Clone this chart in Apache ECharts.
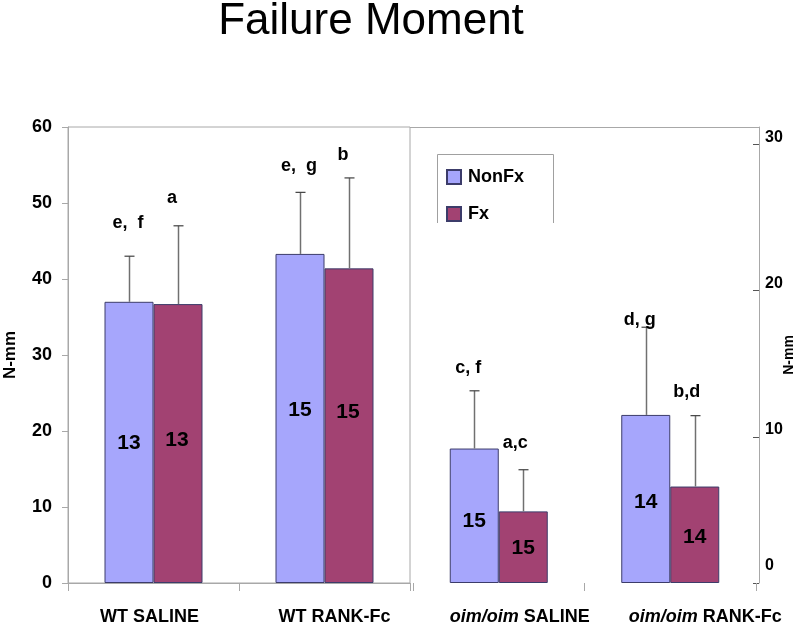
<!DOCTYPE html>
<html>
<head>
<meta charset="utf-8">
<script src="https://cdn.jsdelivr.net/npm/echarts@6/dist/echarts.min.js"></script>
<style>html,body{margin:0;padding:0;background:#fff;}#chart{width:800px;height:630px;}</style>
</head>
<body>
<div id="chart"></div>
<script>
// ---- data ----
const categoriesWT = ['WT SALINE', 'WT RANK-Fc'];
const categoriesOim = ['oim/oim SALINE', 'oim/oim RANK-Fc'];
const leftTicks = [0, 10, 20, 30, 40, 50, 60];
const rightTicks = [0, 10, 20, 30];

const wtNonFx = [37.0, 43.3];
const wtNonFxSD = [6.0, 8.1];
const wtFx = [36.7, 41.4];
const wtFxSD = [10.3, 11.9];
const oimNonFx = [9.2, 11.5];
const oimNonFxSD = [3.95, 6.0];
const oimFx = [4.9, 6.6];
const oimFxSD = [2.85, 4.85];

const wtNonFxN = ['13', '15'];
const wtFxN = ['13', '15'];
const oimNonFxN = ['15', '14'];
const oimFxN = ['15', '14'];
const wtNonFxNAt = [18.4, 22.8];
const wtFxNAt = [18.8, 22.5];
const oimNonFxNAt = [4.25, 5.5];
const oimFxNAt = [2.4, 3.15];

const wtNonFxLetters = ['e,  f', 'e,  g'];
const wtNonFxLettersAt = [47.4, 54.9];
const wtFxLetters = ['a', 'b'];
const wtFxLettersAt = [50.7, 56.3];
const oimNonFxLetters = ['c, f', 'd, g'];
const oimNonFxLettersAt = [14.7, 18.0];
const oimFxLetters = ['a,c', 'b,d'];
const oimFxLettersAt = [9.6, 13.1];

// ---- styles ----
const FONT = 'Liberation Sans, Arial, sans-serif';
const BAR_W = 49;
const C_NONFX = '#A6A6FC';
const C_FX = '#A24272';
const C_BORDER = '#3c3c6a';
const C_FRAME = '#a8a8a8';

function errSeries(name, means, sds, side, xi, yi) {
  return {
    type: 'custom', name: name, xAxisIndex: xi, yAxisIndex: yi, z: 5, clip: false,
    data: means.map((m, i) => [i, m, sds[i]]),
    encode: { x: 0, y: 1 },
    renderItem: function (params, api) {
      const i = api.value(0), m = api.value(1), s = api.value(2);
      const p0 = api.coord([i, m]);
      const p1 = api.coord([i, m + s]);
      const x = Math.round(p0[0] + side * BAR_W / 2) + 0.5;
      const st = { stroke: '#707070', lineWidth: 1.5 };
      return { type: 'group', children: [
        { type: 'line', shape: { x1: x, y1: p0[1], x2: x, y2: p1[1] }, style: st },
        { type: 'line', shape: { x1: x - 5, y1: p1[1], x2: x + 5, y2: p1[1] }, style: { stroke: '#404040', lineWidth: 1.2 } }
      ] };
    }
  };
}

function textSeries(name, texts, at, side, dx, size, xi, yi) {
  return {
    type: 'custom', name: name, xAxisIndex: xi, yAxisIndex: yi, z: 10, clip: false,
    data: at.map((v, i) => [i, v]),
    encode: { x: 0, y: 1 },
    renderItem: function (params, api) {
      const p = api.coord([api.value(0), api.value(1)]);
      return {
        type: 'text',
        x: p[0] + side * BAR_W / 2 + dx, y: p[1],
        style: { text: texts[params.dataIndex], fill: '#000', font: 'bold ' + size + 'px ' + FONT, textAlign: 'center', textVerticalAlign: 'middle' }
      };
    }
  };
}

const labelShift = { 'WT SALINE': -4, 'WT RANK-Fc': 10, 'oim/oim SALINE': 21, 'oim/oim RANK-Fc': 35 };
function catFormatter(v) {
  const d = labelShift[v] || 0;
  const lp = d > 0 ? 'L' + Math.round(d) : '';
  if (v.indexOf('oim/oim') === 0) {
    return '{i' + lp + '|oim/oim}{n|' + v.slice(7) + '}';
  }
  return '{n' + (d < 0 ? 'R' : '') + '|' + v + '}';
}
const catRich = {
  n: { fontWeight: 'bold', fontSize: 18, fontFamily: FONT, color: '#000' },
  nR: { fontWeight: 'bold', fontSize: 18, fontFamily: FONT, color: '#000', padding: [0, 8, 0, 0] },
  i: { fontWeight: 'bold', fontStyle: 'italic', fontSize: 18, fontFamily: FONT, color: '#000' },
  iL21: { fontWeight: 'bold', fontStyle: 'italic', fontSize: 18, fontFamily: FONT, color: '#000', padding: [0, 0, 0, 42] },
  iL35: { fontWeight: 'bold', fontStyle: 'italic', fontSize: 18, fontFamily: FONT, color: '#000', padding: [0, 0, 0, 70] }
};
const wtRich = Object.assign({}, catRich, {
  nL10: { fontWeight: 'bold', fontSize: 18, fontFamily: FONT, color: '#000', padding: [0, 0, 0, 20] }
});
function wtFormatter(v) {
  const d = labelShift[v] || 0;
  if (d > 0) return '{nL10|' + v + '}';
  return catFormatter(v);
}

const chart = echarts.init(document.getElementById('chart'), null, { renderer: 'canvas' });
chart.setOption({
  animation: false,
  backgroundColor: '#fff',
  title: {
    text: 'Failure Moment', left: 371, top: 0, padding: 0, textAlign: 'center',
    textStyle: { fontFamily: FONT, fontSize: 44, fontWeight: 'normal', color: '#000' }
  },
  legend: {
    data: ['NonFx', 'Fx'], orient: 'vertical', left: 446, top: 168, padding: 0,
    itemWidth: 14, itemHeight: 14, itemGap: 19, icon: 'rect',
    textStyle: { fontFamily: FONT, fontSize: 18, fontWeight: 'bold', color: '#000', padding: [0, 0, 0, 2] }
  },
  graphic: [
    { type: 'line', shape: { x1: 410, y1: 127.5, x2: 759, y2: 127.5 }, style: { stroke: C_FRAME, lineWidth: 1 }, silent: true },
    { type: 'polyline', shape: { points: [[437.5, 223], [437.5, 154.5], [553.5, 154.5], [553.5, 223]] }, style: { stroke: '#a0a0a0', lineWidth: 1, fill: null }, silent: true }
  ],
  grid: [
    { left: 68, top: 127, width: 342, height: 456, show: true, borderColor: C_FRAME, borderWidth: 1, backgroundColor: 'transparent', outerBoundsMode: 'none', containLabel: false },
    { left: 413, top: 127, width: 343, height: 456, outerBoundsMode: 'none', containLabel: false }
  ],
  xAxis: [
    {
      type: 'category', gridIndex: 0, data: categoriesWT,
      axisLine: { show: true, lineStyle: { color: C_FRAME } },
      axisTick: { show: true, length: 8, lineStyle: { color: C_FRAME } },
      axisLabel: { margin: 25, interval: 0, hideOverlap: false, formatter: wtFormatter, rich: wtRich }
    },
    {
      type: 'category', gridIndex: 1, data: categoriesOim,
      axisLine: { show: false },
      axisTick: { show: true, length: 8, lineStyle: { color: C_FRAME } },
      axisLabel: { margin: 25, interval: 0, hideOverlap: false, formatter: catFormatter, rich: catRich }
    }
  ],
  yAxis: [
    {
      type: 'value', gridIndex: 0, min: 0, max: 60, interval: 10,
      name: 'N-mm', nameLocation: 'middle', nameGap: 49, nameRotate: 90, nameMoveOverlap: false,
      nameTextStyle: { fontFamily: FONT, fontSize: 17, fontWeight: 'bold', color: '#000' },
      axisLine: { show: true, lineStyle: { color: C_FRAME } },
      axisTick: { show: true, length: 6, lineStyle: { color: C_FRAME } },
      axisLabel: { margin: 16, fontFamily: FONT, fontSize: 18, fontWeight: 'bold', color: '#000', customValues: leftTicks },
      splitLine: { show: false }
    },
    {
      type: 'value', gridIndex: 1, position: 'right', offset: 3, min: 0, max: 31.2,
      name: 'N-mm', nameLocation: 'middle', nameGap: 23, nameRotate: 90, nameMoveOverlap: false,
      nameTextStyle: { fontFamily: FONT, fontSize: 14, fontWeight: 'bold', color: '#000', padding: [0, 0, 0, 0] },
      axisLine: { show: true, lineStyle: { color: C_FRAME } },
      axisTick: { show: true, inside: true, length: 6, customValues: rightTicks, lineStyle: { color: '#555' } },
      axisLabel: {
        margin: 6, customValues: rightTicks,
        formatter: v => (v === 0 ? '{z|0}' : '{r|' + v + '}'),
        rich: {
          r: { fontFamily: FONT, fontSize: 16, fontWeight: 'bold', color: '#000', padding: [0, 0, 14, 0] },
          z: { fontFamily: FONT, fontSize: 16, fontWeight: 'bold', color: '#000', padding: [0, 0, 34, 0] }
        }
      },
      splitLine: { show: false }
    }
  ],
  series: [
    { type: 'bar', name: 'NonFx', xAxisIndex: 0, yAxisIndex: 0, data: wtNonFx, barWidth: BAR_W, barGap: '0%',
      itemStyle: { color: C_NONFX, borderColor: C_BORDER, borderWidth: 1 } },
    { type: 'bar', name: 'Fx', xAxisIndex: 0, yAxisIndex: 0, data: wtFx, barWidth: BAR_W, barGap: '0%',
      itemStyle: { color: C_FX, borderColor: C_BORDER, borderWidth: 1 } },
    { type: 'bar', name: 'NonFx', xAxisIndex: 1, yAxisIndex: 1, data: oimNonFx, barWidth: BAR_W, barGap: '0%',
      itemStyle: { color: C_NONFX, borderColor: C_BORDER, borderWidth: 1 } },
    { type: 'bar', name: 'Fx', xAxisIndex: 1, yAxisIndex: 1, data: oimFx, barWidth: BAR_W, barGap: '0%',
      itemStyle: { color: C_FX, borderColor: C_BORDER, borderWidth: 1 } },
    errSeries('err1', wtNonFx, wtNonFxSD, -1, 0, 0),
    errSeries('err2', wtFx, wtFxSD, 1, 0, 0),
    errSeries('err3', oimNonFx, oimNonFxSD, -1, 1, 1),
    errSeries('err4', oimFx, oimFxSD, 1, 1, 1),
    textSeries('n1', wtNonFxN, wtNonFxNAt, -1, 0, 21, 0, 0),
    textSeries('n2', wtFxN, wtFxNAt, 1, -1, 21, 0, 0),
    textSeries('n3', oimNonFxN, oimNonFxNAt, -1, 0, 21, 1, 1),
    textSeries('n4', oimFxN, oimFxNAt, 1, 0, 21, 1, 1),
    textSeries('l1', wtNonFxLetters, wtNonFxLettersAt, -1, -1, 18, 0, 0),
    textSeries('l2', wtFxLetters, wtFxLettersAt, 1, -6, 18, 0, 0),
    textSeries('l3', oimNonFxLetters, oimNonFxLettersAt, -1, -6, 18, 1, 1),
    textSeries('l4', oimFxLetters, oimFxLettersAt, 1, -8, 18, 1, 1)
  ]
});
</script>
</body>
</html>
